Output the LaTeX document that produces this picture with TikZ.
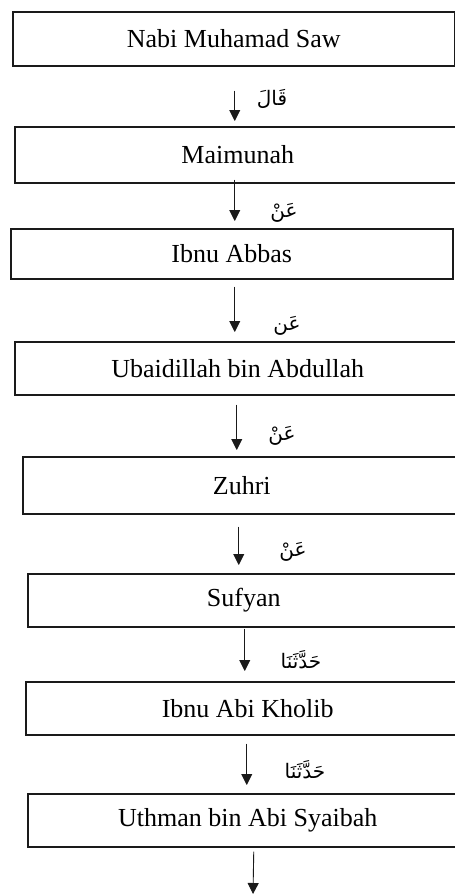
\documentclass[tikz,border=0pt]{standalone}
\usepackage{fontspec}
\setmainfont{Liberation Serif}
\newfontfamily\arabicfont[Script=Arabic]{DejaVu Sans}
\TeXXeTstate=1
\usetikzlibrary{arrows.meta}
\definecolor{ChainInk}{HTML}{1A1A1A}

\begin{document}
\begin{tikzpicture}[x=1pt,y=-1pt,>={Triangle[length=11pt,width=11pt]},
  perawi/.style={draw=ChainInk,line width=1.5pt,rectangle,anchor=north west,inner sep=0pt,
    font=\fontsize{26}{30}\selectfont},
  flow/.style={->,ChainInk,line width=0.9pt},
  sighah/.style={font=\arabicfont\fontsize{20}{24}\selectfont,inner sep=0pt}]
  \useasboundingbox (0,0) rectangle (455,894);
  \node[perawi,minimum width=442pt,minimum height=54pt] (nabi) at (12,11) {Nabi Muhamad Saw};
  \node[perawi,minimum width=446pt,minimum height=56pt] (maimunah) at (14,126) {Maimunah};
  \node[perawi,minimum width=442pt,minimum height=50pt] (abbas) at (10,228) {Ibnu Abbas};
  \node[perawi,minimum width=446pt,minimum height=53pt] (ubaid) at (14,341) {Ubaidillah bin Abdullah};
  \node[perawi,minimum width=438pt,minimum height=57pt] (zuhri) at (22,456) {Zuhri};
  \node[perawi,minimum width=432pt,minimum height=53pt] (sufyan) at (27,573) {Sufyan};
  \node[perawi,minimum width=444pt,minimum height=53pt] (kholib) at (25,681) {Ibnu Abi Kholib};
  \node[perawi,minimum width=440pt,minimum height=53pt] (uthman) at (27,793) {Uthman bin Abi Syaibah};
  \coordinate (ujung) at (253,894);

  \draw[flow] ([xshift=1pt,yshift=-24pt]nabi.south) -- ([xshift=-3pt,yshift=5pt]maimunah.north);
  \draw[flow] ([xshift=-3pt,yshift=4pt]maimunah.south) -- ([xshift=3pt,yshift=7pt]abbas.north);
  \draw[flow] ([xshift=3pt,yshift=-7pt]abbas.south) -- ([xshift=-3pt,yshift=9pt]ubaid.north);
  \draw[flow] ([xshift=-1pt,yshift=-9pt]ubaid.south) -- ([xshift=-5pt,yshift=6pt]zuhri.north);
  \draw[flow] ([xshift=-3pt,yshift=-12pt]zuhri.south) -- ([xshift=-5pt,yshift=8pt]sufyan.north);
  \draw[flow] ([xshift=1pt,yshift=-1pt]sufyan.south) -- ([xshift=-3pt,yshift=10pt]kholib.north);
  \draw[flow] ([xshift=-1pt,yshift=-8pt]kholib.south) -- ([xshift=-1pt,yshift=8pt]uthman.north);
  \draw[flow] ([xshift=6pt,yshift=-4pt]uthman.south) -- (ujung);

  \node[sighah] (qala) at (272,99) {\beginR قَالَ\endR};
  \node[sighah] (an1) at (284,213) {\beginR عَنْ\endR};
  \node[sighah] (an2) at (287,326) {\beginR عَن\endR};
  \node[sighah] (an3) at (282,436) {\beginR عَنْ\endR};
  \node[sighah] (an4) at (293,552) {\beginR عَنْ\endR};
  \node[sighah] (haddatsana1) at (301,660) {\beginR حَدَّثَنَا\endR};
  \node[sighah] (haddatsana2) at (305,770) {\beginR حَدَّثَنَا\endR};
\end{tikzpicture}
\end{document}
